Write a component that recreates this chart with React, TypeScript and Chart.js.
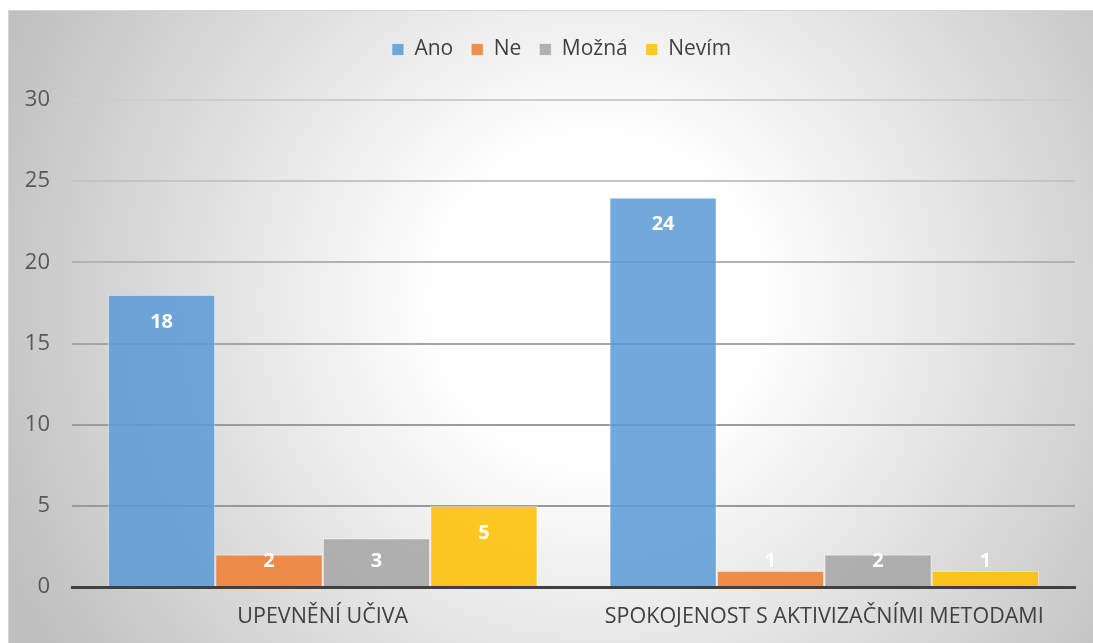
import React, { useEffect, useRef } from "react";
import { Chart, registerables } from "chart.js";

Chart.register(...registerables);

const categories = ["UPEVNĚNÍ UČIVA", "SPOKOJENOST S AKTIVIZAČNÍMI METODAMI"];
const seriesNames = ["Ano", "Ne", "Možná", "Nevím"];
const anoValues = [18, 24];
const neValues = [2, 1];
const moznaValues = [3, 2];
const nevimValues = [5, 1];
const seriesColors = [
  "rgba(91,155,213,0.86)",
  "rgba(237,125,49,0.86)",
  "rgba(165,165,165,0.86)",
  "rgba(255,192,0,0.86)",
];
const yTicks = [0, 5, 10, 15, 20, 25, 30];
const gridColors: Record<number, string> = {
  5: "#999999",
  10: "#9c9c9c",
  15: "#a4a4a4",
  20: "#b2b2b2",
  25: "#c4c4c4",
  30: "#cdcdcd",
};

const FONT = "'Open Sans', 'Noto Sans', sans-serif";

const backgroundPlugin = {
  id: "bgPlugin",
  beforeDraw(chart: any) {
    const { ctx, width, height } = chart;
    ctx.save();
    const g = ctx.createRadialGradient(590, 290, 0, 590, 290, 650);
    g.addColorStop(0, "#ffffff");
    g.addColorStop(0.25, "#ffffff");
    g.addColorStop(1, "#bfbfbf");
    ctx.fillStyle = g;
    ctx.fillRect(0, 0, width, height);
    ctx.strokeStyle = "#d4d4d4";
    ctx.lineWidth = 1;
    ctx.strokeRect(0.5, 0.5, width + 10, height + 10);
    ctx.restore();
  },
};

const legendHeightPlugin = {
  id: "legendHeight",
  beforeLayout(chart: any) {
    const legend = chart.legend;
    if (legend && !legend.__patched) {
      const orig = legend.fit;
      legend.fit = function () {
        orig.call(this);
        this.height = 79;
      };
      legend.__patched = true;
    }
  },
  afterLayout(chart: any) {
    const legend = chart.legend;
    if (legend) {
      legend.left += 20;
      legend.right += 20;
    }
  },
};

const valueLabelPlugin = {
  id: "valueLabels",
  afterDatasetsDraw(chart: any) {
    const { ctx } = chart;
    ctx.save();
    ctx.font = `bold 20px ${FONT}`;
    ctx.fillStyle = "#ffffff";
    ctx.textAlign = "center";
    ctx.textBaseline = "middle";
    chart.data.datasets.forEach((ds: any, i: number) => {
      const meta = chart.getDatasetMeta(i);
      meta.data.forEach((bar: any, j: number) => {
        const y = Math.min(bar.y + 27, bar.base - 25);
        ctx.fillText(String(ds.data[j]), bar.x, y);
      });
    });
    ctx.restore();
  },
};

export default function App() {
  const canvasRef = useRef<HTMLCanvasElement | null>(null);

  useEffect(() => {
    if (!canvasRef.current) return;
    const valueSets = [anoValues, neValues, moznaValues, nevimValues];
    const chart = new Chart(canvasRef.current, {
      type: "bar",
      data: {
        labels: categories,
        datasets: seriesNames.map((name, i) => ({
          label: name,
          data: valueSets[i],
          backgroundColor: seriesColors[i],
          borderColor: "rgba(255,255,255,0.55)",
          borderWidth: 1,
          categoryPercentage: 0.857,
          barPercentage: 1,
        })),
      },
      options: {
        animation: false,
        responsive: false,
        maintainAspectRatio: false,
        layout: { padding: { top: 11, right: 18, bottom: 0, left: 0 } },
        font: { family: FONT },
        plugins: {
          tooltip: { enabled: false },
          legend: {
            position: "top",
            labels: {
              boxWidth: 12,
              boxHeight: 12,
              padding: 18,
              color: "#404040",
              font: { size: 21, family: FONT },
            },
          },
        },
        scales: {
          x: {
            grid: { display: false, drawTicks: false },
            border: { display: true, color: "#404040", width: 3 },
            ticks: {
              color: "#404040",
              padding: 17,
              font: { size: 21.5, family: FONT },
            },
            afterFit(scale: any) {
              scale.height = 56;
            },
          },
          y: {
            min: 0,
            max: 30,
            grid: {
              drawTicks: false,
              lineWidth: 2,
              color: (c: any) => gridColors[c.tick?.value] || "rgba(0,0,0,0)",
            },
            border: { display: false },
            afterBuildTicks(scale: any) {
              scale.ticks = yTicks.map((v) => ({ value: v }));
            },
            ticks: {
              color: "#595959",
              padding: 22,
              font: { size: 22, family: FONT },
            },
            afterFit(scale: any) {
              scale.width = 64;
            },
          },
        },
      },
      plugins: [backgroundPlugin, legendHeightPlugin, valueLabelPlugin],
    } as any);
    return () => chart.destroy();
  }, []);

  return (
    <div style={{ position: "fixed", left: 8, top: 10, width: 1085, height: 633 }}>
      <canvas ref={canvasRef} width={1085} height={633} style={{ display: "block" }} />
    </div>
  );
}
